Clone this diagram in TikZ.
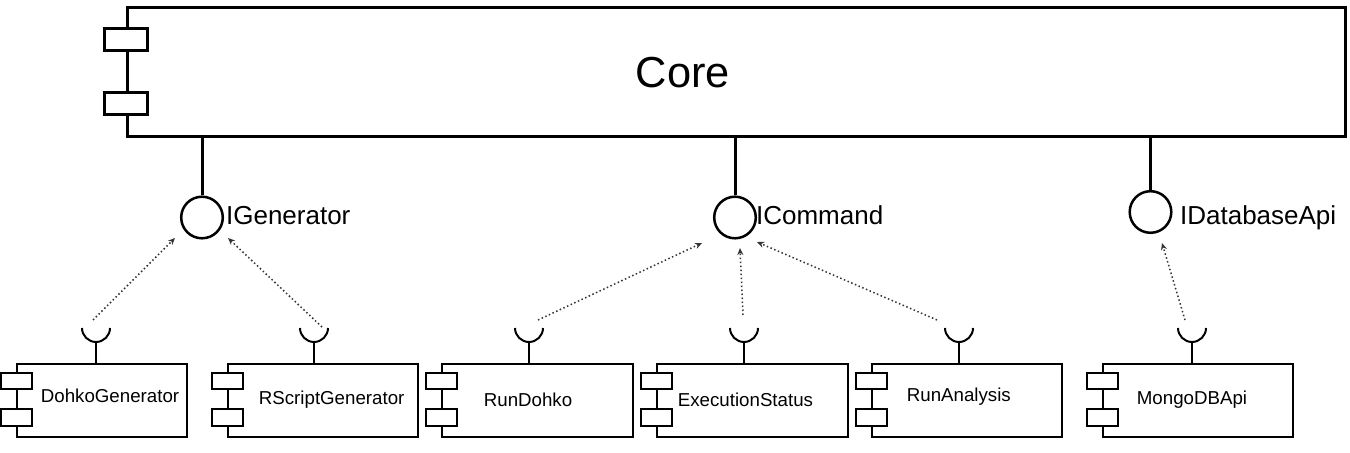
\documentclass[tikz,border=0pt]{standalone}
\usepackage{fontspec}
\setmainfont{Liberation Sans}
\usetikzlibrary{arrows.meta,calc}
\begin{document}
\begin{tikzpicture}[x=0.5pt,y=-0.5pt,
 comp/.style={draw, line width=1pt, rectangle, inner sep=0pt, minimum height=36.5pt},
 bigcomp/.style={draw, line width=1.5pt, rectangle, inner sep=0pt},
 tab/.style={draw, fill=white, line width=1pt},
 bigtab/.style={draw, fill=white, line width=1.5pt},
 iface/.style={draw, circle, line width=1.25pt, minimum size=20.8pt, inner sep=0pt},
 stem/.style={line width=1.5pt},
 sock/.style={line width=1pt},
 dep/.style={line width=0.75pt, black!80, dash pattern=on 0.75pt off 1.25pt, -{Stealth[length=3.5pt,width=3pt]}},
 lbl/.style={inner sep=0pt, anchor=base west, font=\fontsize{13}{15}\selectfont},
 small/.style={inner sep=0pt, anchor=base west, font=\fontsize{9.35}{11}\selectfont},
]
\useasboundingbox (0,0) rectangle (1350,453);

% Core component
\node[bigcomp, minimum width=609pt, minimum height=64.5pt] (core) at (736,72.5) {};
\node[inner sep=0pt, anchor=base, font=\fontsize{21.7}{25}\selectfont] (coretext) at (683,88) {Core};
\draw[bigtab] ($(core.north west)+(-21.5,22)$) rectangle ($(core.north west)+(22,44)$);
\draw[bigtab] ($(core.north west)+(-21.5,86)$) rectangle ($(core.north west)+(22,108)$);

% Interfaces
\node[iface] (gen) at (202,217.5) {};
\node[iface] (cmd) at (735,217.5) {};
\node[iface] (db) at (1150.5,212) {};
\node[lbl] (genl) at (225.7,225) {IGenerator};
\node[lbl] (cmdl) at (755.7,225) {ICommand};
\node[lbl] (dbl) at (1179.7,225) {IDatabaseApi};
\draw[stem] (gen.north) -- (gen.north |- core.south);
\draw[stem] (cmd.north) -- (cmd.north |- core.south);
\draw[stem] (db.north) -- (db.north |- core.south);

% Components
\node[comp, minimum width=85pt]   (dohko) at (102,400.5) {};
\node[comp, minimum width=95pt]   (rscript) at (323,400.5) {};
\node[comp, minimum width=95.5pt] (rundohko) at (537.5,400.5) {};
\node[comp, minimum width=95.5pt] (exec) at (752.5,400.5) {};
\node[comp, minimum width=95pt]   (runan) at (967,400.5) {};
\node[comp, minimum width=95pt]   (mongo) at (1198,400.5) {};

\foreach \b in {dohko,rscript,rundohko,exec,runan,mongo}{
  \draw[tab] ($(\b.north west)+(-15,10)$) rectangle ($(\b.north west)+(16,26)$);
  \draw[tab] ($(\b.north west)+(-15,46)$) rectangle ($(\b.north west)+(16,63)$);
}

\node[small] (dohkot) at (40.5,403) {DohkoGenerator};
\node[small] (rscriptt) at (258.5,405) {RScriptGenerator};
\node[small] (rundohkot) at (483.5,407) {RunDohko};
\node[small] (exect) at (677.5,407) {ExecutionStatus};
\node[small] (runant) at (906.5,402) {RunAnalysis};
\node[small] (mongot) at (1136.5,405) {MongoDBApi};

% Sockets (required interfaces)
\coordinate (s1) at (96,342);
\coordinate (s2) at (314,342);
\coordinate (s3) at (529,342);
\coordinate (s4) at (744,342);
\coordinate (s5) at (959,342);
\coordinate (s6) at (1192,342);
\foreach \s/\b in {s1/dohko,s2/rscript,s3/rundohko,s4/exec,s5/runan,s6/mongo}{
  \draw[sock] ($(\s)+(-14,-14)$) arc[start angle=180, end angle=360, radius=7pt];
  \draw[sock] (\s) -- (\s |- \b.north);
}

% Dependency arrows
\coordinate (a1) at (93,320);   \coordinate (t1) at (175,238);
\coordinate (a2) at (322,327);  \coordinate (t2) at (228,238);
\coordinate (a3) at (538,320);  \coordinate (t3) at (702,243);
\coordinate (a4) at (743,315);  \coordinate (t4) at (740,248);
\coordinate (a5) at (937,320);  \coordinate (t5) at (757,242);
\coordinate (a6) at (1185,320); \coordinate (t6) at (1162,243);
\foreach \i in {1,...,6}{
  \draw[dep] (a\i) -- (t\i);
}
\end{tikzpicture}
\end{document}
